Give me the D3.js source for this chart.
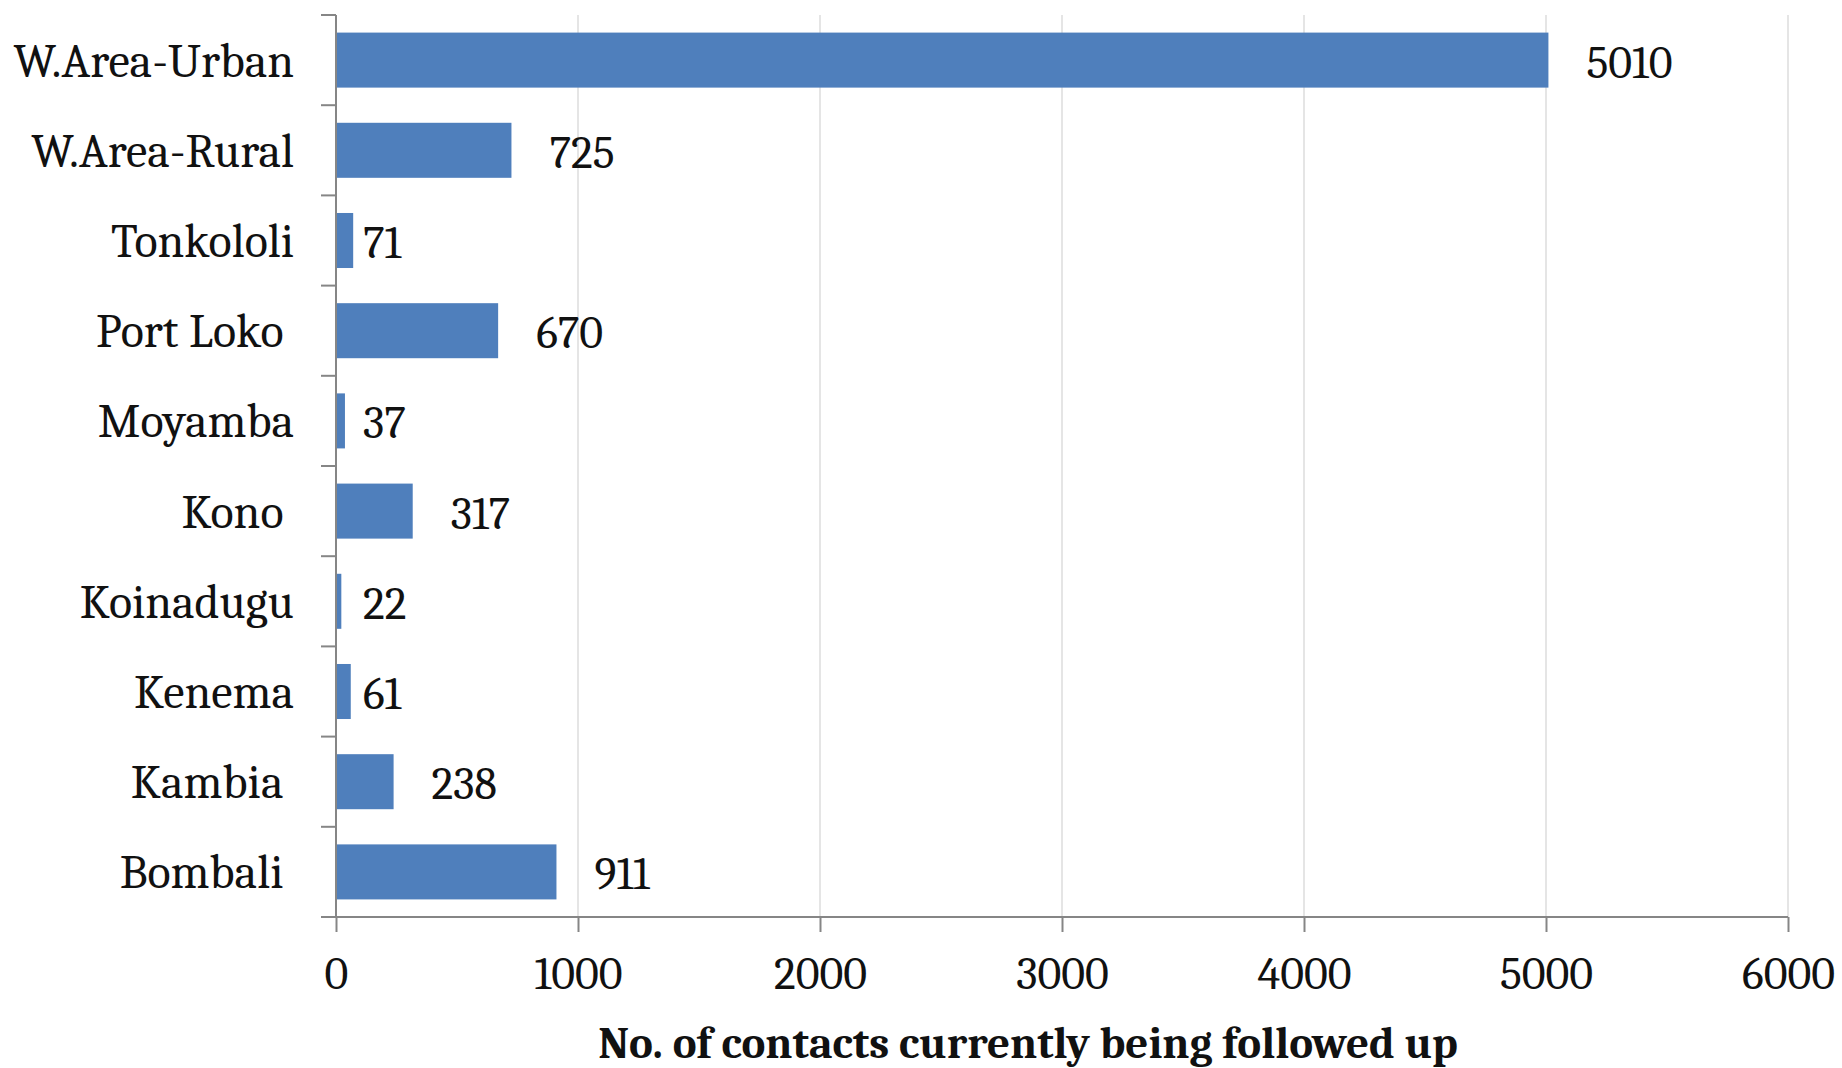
<!DOCTYPE html>
<html>
<head>
<meta charset="utf-8">
<script src="https://cdn.jsdelivr.net/npm/d3@7"></script>
<style>
  body { margin: 0; background: #fff; }
  svg text { font-family: Cambria, 'Liberation Serif', 'DejaVu Serif', serif; fill: #111; white-space: pre; }
</style>
</head>
<body>
<div id="chart"></div>
<script>
// districts, top to bottom as drawn (trailing spaces are in the original labels)
const districts = ['W.Area-Urban', 'W.Area-Rural', 'Tonkololi', 'Port Loko ', 'Moyamba',
  'Kono ', 'Koinadugu', 'Kenema', 'Kambia ', 'Bombali '];
const contacts = [5010, 725, 71, 670, 37, 317, 22, 61, 238, 911];
const xTicks = [0, 1000, 2000, 3000, 4000, 5000, 6000];
const xTitle = 'No. of contacts currently being followed up';

const W = 1842;
const H = 1068;
const LEFT = 336;
const RIGHT = 1788;
const TOP = 15;
const BOTTOM = 917;
const AXIS = '#868686';

const data = districts.map((d, i) => ({ name: d, value: contacts[i] }));

const svg = d3.select('#chart')
  .append('svg')
  .attr('width', W)
  .attr('height', H);

const x = d3.scaleLinear()
  .domain([0, 6000])
  .range([LEFT, RIGHT]);

const y = d3.scaleBand()
  .domain(districts)
  .range([TOP, BOTTOM])
  .paddingInner(0.39)
  .paddingOuter(0.195);

// vertical gridlines
svg.append('g')
  .selectAll('line')
  .data(xTicks.slice(1))
  .enter()
  .append('line')
  .attr('x1', d => x(d))
  .attr('x2', d => x(d))
  .attr('y1', TOP)
  .attr('y2', BOTTOM)
  .attr('stroke', '#dcdcdc')
  .attr('stroke-width', 1.5);

// bars
svg.append('g')
  .selectAll('rect')
  .data(data)
  .enter()
  .append('rect')
  .attr('x', x(0))
  .attr('y', d => y(d.name))
  .attr('width', d => x(d.value) - x(0))
  .attr('height', y.bandwidth())
  .attr('fill', '#4f7fbc');

// value labels: short bars get theirs tucked near the axis
svg.append('g')
  .selectAll('text')
  .data(data)
  .enter()
  .append('text')
  .attr('x', d => d.value < 100 ? x(0) + 27 : x(d.value) + 38)
  .attr('y', d => y(d.name) + y.bandwidth() / 2 + 3)
  .attr('dominant-baseline', 'central')
  .attr('font-size', 46)
  .text(d => d.value);

// y axis: line plus ticks on band boundaries
const step = y.step();
const edge = d => y(d) - step * y.paddingInner() / 2;
const yAxis = svg.append('g');
yAxis.append('line')
  .attr('x1', LEFT).attr('x2', LEFT)
  .attr('y1', TOP).attr('y2', BOTTOM)
  .attr('stroke', AXIS).attr('stroke-width', 2);
yAxis.selectAll('line.tick')
  .data(districts)
  .enter()
  .append('line')
  .attr('class', 'tick')
  .attr('x1', LEFT - 15).attr('x2', LEFT)
  .attr('y1', d => edge(d)).attr('y2', d => edge(d))
  .attr('stroke', AXIS).attr('stroke-width', 2);
yAxis.selectAll('text')
  .data(districts)
  .enter()
  .append('text')
  .attr('x', LEFT - 42)
  .attr('y', d => y(d) + y.bandwidth() / 2 + 1)
  .attr('dominant-baseline', 'central')
  .attr('text-anchor', 'end')
  .attr('font-size', 48)
  .text(d => d);

// x axis
const xAxis = svg.append('g')
  .attr('transform', `translate(0,${BOTTOM})`)
  .call(d3.axisBottom(x).tickValues(xTicks).tickFormat(d3.format('d'))
    .tickSize(15).tickPadding(24).tickSizeOuter(0));
xAxis.select('.domain').remove();
xAxis.append('line')
  .attr('x1', LEFT - 15).attr('x2', RIGHT)
  .attr('stroke', AXIS).attr('stroke-width', 2);
xAxis.selectAll('.tick line').attr('stroke', AXIS).attr('stroke-width', 2);
xAxis.selectAll('.tick text')
  .attr('font-size', 46)
  .style('font-family', "Cambria, 'Liberation Serif', serif")
  .attr('fill', '#111');

svg.append('text')
  .attr('x', 1028)
  .attr('y', 1058)
  .attr('text-anchor', 'middle')
  .attr('font-size', 45)
  .attr('font-weight', 'bold')
  .text(xTitle);
</script>
</body>
</html>
